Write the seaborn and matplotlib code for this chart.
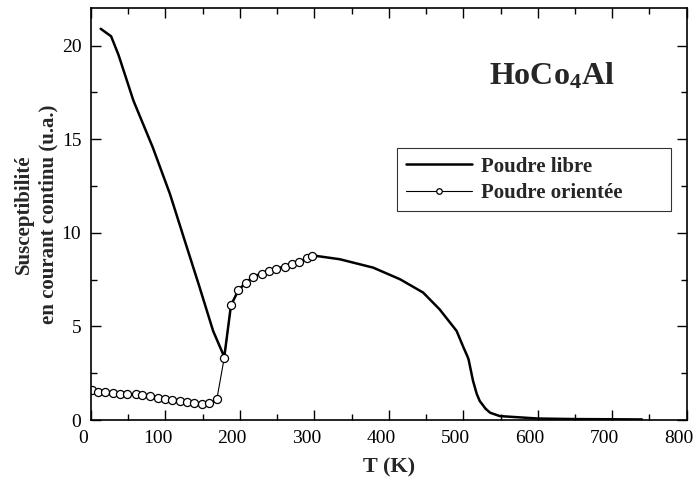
import numpy as np
import pandas as pd
import seaborn as sns
import matplotlib.pyplot as plt
import matplotlib.transforms as mtransforms
from matplotlib.ticker import MultipleLocator

# Poudre libre (trait épais)
T_libre = [13, 27, 37, 57, 83, 106, 126, 145, 164, 179, 188, 198, 208, 218, 229,
           239, 249, 260, 270, 280, 290, 300, 334, 379, 415, 446, 468, 491, 500,
           505, 507, 513, 518, 522, 530, 536, 549, 600, 650, 700, 740]
chi_libre = [20.9, 20.5, 19.5, 17.06, 14.56, 12.08, 9.57, 7.2, 4.76, 3.37, 6.13,
             6.94, 7.34, 7.66, 7.82, 7.97, 8.09, 8.20, 8.33, 8.45, 8.65, 8.78, 8.59,
             8.14, 7.52, 6.81, 5.92, 4.76, 3.9, 3.45, 3.25, 2.1, 1.4, 1.02, 0.6,
             0.39, 0.21, 0.08, 0.05, 0.04, 0.03]

# Poudre orientée (cercles)
T_orient = [2, 9, 19, 29, 39, 49, 60, 69, 79, 90, 99, 109, 119, 129, 139, 149,
            159, 169, 179, 188, 198, 208, 218, 229, 239, 249, 260, 270, 280, 290, 297]
chi_orient = [1.60, 1.51, 1.51, 1.46, 1.41, 1.41, 1.41, 1.34, 1.27, 1.19, 1.14,
              1.09, 1.00, 0.95, 0.89, 0.87, 0.89, 1.11, 3.33, 6.13, 6.94, 7.34,
              7.66, 7.82, 7.97, 8.09, 8.20, 8.33, 8.45, 8.65, 8.75]

df_libre = pd.DataFrame({'T': T_libre, 'chi': chi_libre})
df_orient = pd.DataFrame({'T': T_orient, 'chi': chi_orient})

sns.set_style("ticks")
plt.rcParams['font.family'] = ['Liberation Serif', 'DejaVu Serif']
plt.rcParams['mathtext.fontset'] = 'custom'
plt.rcParams['mathtext.rm'] = 'Liberation Serif'
plt.rcParams['mathtext.bf'] = 'Liberation Serif:bold'

fig = plt.figure(figsize=(6.93, 4.82), dpi=100)
ax = fig.add_axes([0.1313, 0.1286, 0.8596, 0.8544])

sns.lineplot(data=df_libre, x='T', y='chi', ax=ax, color='black', linewidth=1.8,
             sort=False, label='Poudre libre')
sns.lineplot(data=df_orient, x='T', y='chi', ax=ax, color='black', linewidth=0.8,
             marker='o', markersize=5.8, markerfacecolor='white', markeredgecolor='black',
             markeredgewidth=0.9, sort=False, label='Poudre orientée')

ax.set_xlim(0, 800)
ax.set_ylim(0, 22)
ax.xaxis.set_major_locator(MultipleLocator(100))
ax.xaxis.set_minor_locator(MultipleLocator(50))
ax.yaxis.set_major_locator(MultipleLocator(5))
ax.yaxis.set_minor_locator(MultipleLocator(2.5))
ax.tick_params(which='both', direction='in', top=True, right=True, width=1.0,
               labelsize=14, colors='black')
ax.tick_params(which='major', length=7)
ax.tick_params(which='minor', length=4)
ax.tick_params(axis='x', pad=7)
ax.tick_params(axis='y', pad=7)
for s in ax.spines.values():
    s.set_linewidth(1.2)
    s.set_color('black')

# x tick labels sit a little left of their ticks in the original
shift = mtransforms.ScaledTranslation(-8 / 100, 0, fig.dpi_scale_trans)
for lbl in ax.get_xticklabels():
    lbl.set_transform(lbl.get_transform() + shift)

ax.set_xlabel('T (K)', fontsize=16, fontweight='bold', labelpad=8)
ax.set_ylabel('Susceptibilité\nen courant continu (u.a.)', fontsize=15,
              fontweight='bold', labelpad=2, linespacing=1.3)

ax.text(0.774, 0.835, r'$\mathbf{HoCo_4Al}$', transform=ax.transAxes,
        fontsize=23, ha='center', va='center')

leg = ax.legend(loc='upper left', bbox_to_anchor=(0.514, 0.51, 0.459, 0.15),
                mode='expand', frameon=True, fancybox=False, edgecolor='black',
                fontsize=15, handlelength=3.2, borderpad=0.4, labelspacing=0.3,
                handletextpad=0.4, borderaxespad=0)
leg.get_frame().set_linewidth(0.8)
for t in leg.get_texts():
    t.set_fontweight('bold')
for h in leg.legend_handles:
    h.set_markersize(4)

fig.savefig('out.png', dpi=100)
